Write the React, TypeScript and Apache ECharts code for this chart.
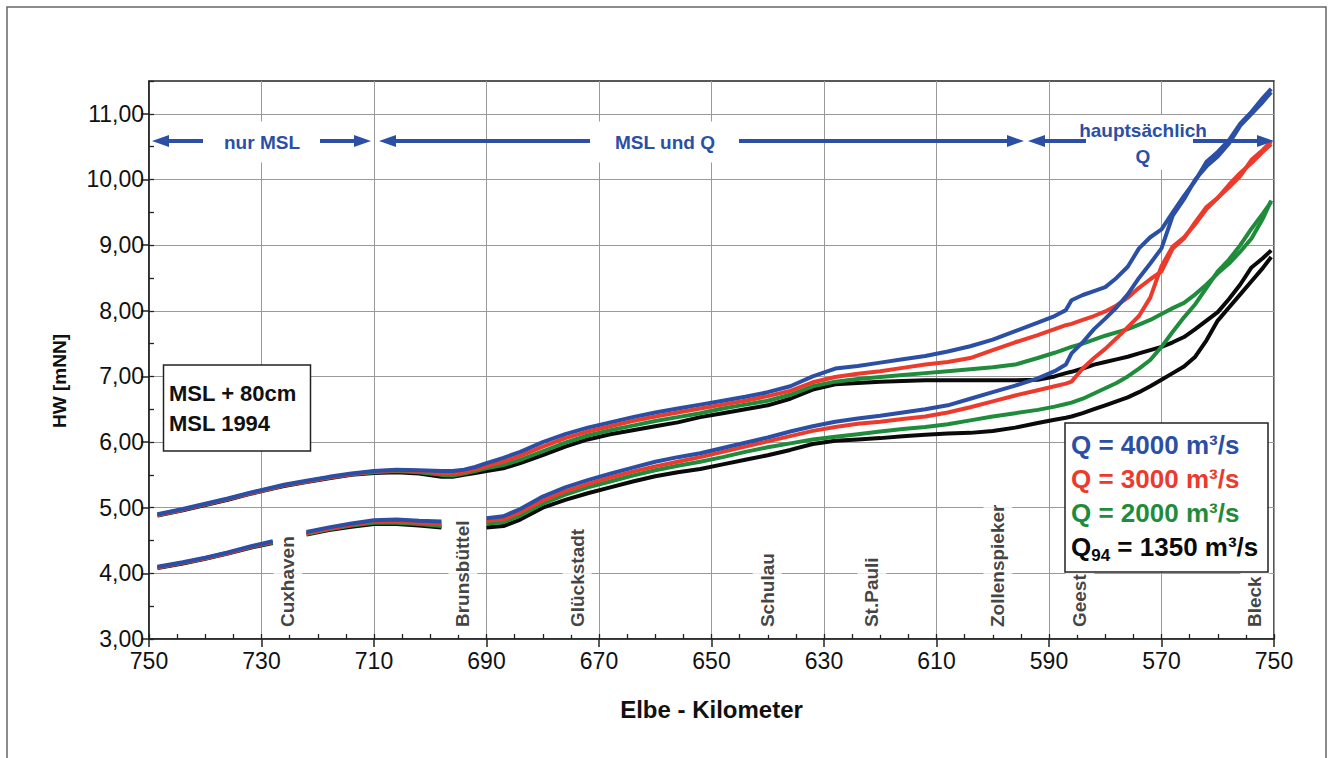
import React, { useEffect, useRef } from "react";
import * as echarts from "echarts";

// Elbe-Kilometer sampling grid (shared by all curves)
const km = [748.5, 744, 740, 736, 732, 728, 726, 722, 718, 714, 710, 706, 702, 698, 696, 694, 692, 690, 687, 684, 680, 676, 672, 668, 664, 660, 656, 652, 648, 644, 640, 636, 632, 628, 624, 620, 616, 612, 608, 604, 600, 596, 592, 589, 587, 586, 584, 582, 580, 578, 576, 574, 572, 570, 568, 566, 564, 562, 560, 558, 556, 554, 552, 550.5];

// HW [mNN], scenario MSL + 80cm
const hw80Q4000 = [4.90, 4.98, 5.06, 5.14, 5.23, 5.31, 5.35, 5.41, 5.47, 5.52, 5.56, 5.58, 5.57, 5.56, 5.56, 5.58, 5.62, 5.68, 5.76, 5.85, 6.00, 6.12, 6.22, 6.30, 6.38, 6.45, 6.51, 6.57, 6.63, 6.69, 6.76, 6.85, 7.00, 7.12, 7.16, 7.21, 7.26, 7.31, 7.38, 7.46, 7.56, 7.69, 7.82, 7.92, 8.01, 8.16, 8.24, 8.30, 8.36, 8.50, 8.67, 8.95, 9.12, 9.24, 9.50, 9.75, 9.98, 10.27, 10.42, 10.60, 10.85, 11.03, 11.24, 11.38];
const hw80Q3000 = [4.89, 4.97, 5.05, 5.13, 5.22, 5.30, 5.34, 5.40, 5.46, 5.51, 5.55, 5.57, 5.56, 5.52, 5.52, 5.54, 5.58, 5.63, 5.70, 5.79, 5.93, 6.06, 6.16, 6.24, 6.32, 6.39, 6.45, 6.51, 6.57, 6.63, 6.70, 6.78, 6.91, 6.99, 7.04, 7.08, 7.13, 7.18, 7.22, 7.28, 7.40, 7.52, 7.63, 7.72, 7.78, 7.80, 7.86, 7.92, 7.99, 8.08, 8.20, 8.35, 8.48, 8.60, 8.95, 9.10, 9.35, 9.58, 9.72, 9.88, 10.05, 10.30, 10.45, 10.58];
const hw80Q2000 = [4.89, 4.97, 5.05, 5.13, 5.22, 5.30, 5.34, 5.40, 5.46, 5.51, 5.54, 5.56, 5.54, 5.50, 5.49, 5.52, 5.56, 5.60, 5.65, 5.73, 5.86, 5.99, 6.10, 6.18, 6.25, 6.32, 6.38, 6.44, 6.51, 6.57, 6.63, 6.72, 6.85, 6.92, 6.96, 6.99, 7.02, 7.05, 7.08, 7.11, 7.14, 7.18, 7.28, 7.36, 7.42, 7.45, 7.50, 7.56, 7.62, 7.67, 7.72, 7.79, 7.86, 7.95, 8.04, 8.12, 8.25, 8.40, 8.57, 8.72, 8.90, 9.10, 9.40, 9.68];
const hw80Q1350 = [4.88, 4.96, 5.04, 5.12, 5.21, 5.29, 5.33, 5.39, 5.45, 5.50, 5.53, 5.54, 5.52, 5.47, 5.47, 5.50, 5.53, 5.56, 5.60, 5.68, 5.80, 5.93, 6.04, 6.12, 6.18, 6.24, 6.30, 6.38, 6.44, 6.50, 6.56, 6.66, 6.80, 6.88, 6.90, 6.92, 6.93, 6.94, 6.94, 6.94, 6.94, 6.94, 6.95, 7.00, 7.05, 7.07, 7.12, 7.18, 7.22, 7.26, 7.30, 7.35, 7.40, 7.45, 7.52, 7.60, 7.72, 7.85, 7.98, 8.18, 8.40, 8.66, 8.80, 8.92];

// HW [mNN], scenario MSL 1994 (null = gap)
const hw94Q4000 = [4.10, 4.17, 4.24, 4.32, 4.41, 4.49, null, 4.63, 4.70, 4.76, 4.81, 4.82, 4.80, 4.79, null, null, null, 4.84, 4.87, 4.98, 5.17, 5.31, 5.42, 5.52, 5.61, 5.70, 5.77, 5.83, 5.91, 5.99, 6.07, 6.16, 6.24, 6.31, 6.36, 6.40, 6.45, 6.50, 6.56, 6.66, 6.76, 6.86, 6.97, 7.08, 7.18, 7.35, 7.52, 7.72, 7.88, 8.05, 8.25, 8.50, 8.72, 8.95, 9.45, 9.70, 10.00, 10.20, 10.35, 10.55, 10.82, 11.00, 11.18, 11.33];
const hw94Q3000 = [4.09, 4.16, 4.23, 4.31, 4.40, 4.48, null, 4.61, 4.68, 4.74, 4.79, 4.79, 4.77, 4.75, null, null, null, 4.80, 4.82, 4.93, 5.11, 5.25, 5.36, 5.46, 5.55, 5.63, 5.70, 5.77, 5.85, 5.93, 6.01, 6.09, 6.17, 6.23, 6.28, 6.31, 6.35, 6.39, 6.45, 6.53, 6.62, 6.71, 6.79, 6.85, 6.89, 6.92, 7.12, 7.28, 7.42, 7.58, 7.75, 7.92, 8.20, 8.68, 8.98, 9.12, 9.32, 9.55, 9.72, 9.92, 10.10, 10.25, 10.42, 10.54];
const hw94Q2000 = [4.09, 4.16, 4.23, 4.31, 4.40, 4.47, null, 4.60, 4.67, 4.73, 4.77, 4.77, 4.75, 4.72, null, null, null, 4.76, 4.78, 4.88, 5.06, 5.20, 5.31, 5.40, 5.49, 5.57, 5.64, 5.70, 5.77, 5.85, 5.92, 5.98, 6.04, 6.08, 6.12, 6.16, 6.20, 6.23, 6.27, 6.33, 6.39, 6.44, 6.49, 6.54, 6.58, 6.60, 6.66, 6.74, 6.82, 6.90, 7.00, 7.12, 7.25, 7.45, 7.68, 7.90, 8.10, 8.35, 8.60, 8.78, 9.00, 9.25, 9.48, 9.66];
const hw94Q1350 = [4.08, 4.15, 4.22, 4.30, 4.39, 4.46, null, 4.59, 4.66, 4.71, 4.75, 4.75, 4.73, 4.70, null, null, null, 4.70, 4.72, 4.82, 5.00, 5.12, 5.22, 5.31, 5.40, 5.48, 5.54, 5.59, 5.66, 5.73, 5.80, 5.88, 5.97, 6.02, 6.04, 6.06, 6.09, 6.11, 6.13, 6.14, 6.17, 6.22, 6.29, 6.34, 6.37, 6.39, 6.44, 6.50, 6.56, 6.62, 6.68, 6.76, 6.85, 6.95, 7.05, 7.15, 7.30, 7.55, 7.85, 8.05, 8.25, 8.45, 8.65, 8.82];

// Stations along the river
const stationNames = ["Cuxhaven", "Brunsbüttel", "Glückstadt", "Schulau", "St.Pauli", "Zollenspieker", "Geest", "Bleck"];
const stationKm = [725.3, 694.2, 673.9, 640.1, 621.5, 599.1, 584.5, 553.4];

// Axis ticks / labels
const xTickValues = [750, 730, 710, 690, 670, 650, 630, 610, 590, 570, 550];
const xTickLabels = ["750", "730", "710", "690", "670", "650", "630", "610", "590", "570", "750"];
const yTickValues = [3, 4, 5, 6, 7, 8, 9, 10, 11];

const BLUE = "#2c4fa6";
const RED = "#ec3a2c";
const GREEN = "#1f8c3b";
const BLACK = "#0a0a0a";
const FONT = "'Liberation Sans', Arial, Helvetica, sans-serif";
const NARROW = "'Liberation Sans Narrow', 'Arial Narrow', 'Liberation Sans', Arial, sans-serif";

export default function App() {
  const ref = useRef<HTMLDivElement>(null);

  useEffect(() => {
    if (!ref.current) return;
    const chart = echarts.init(ref.current, undefined, { renderer: "svg" });

    const mk = (vals: (number | null)[]) => km.map((k, i) => [k, vals[i] == null ? "-" : vals[i]]);
    const lineSeries = (name: string, vals: (number | null)[], color: string) => ({
      name,
      type: "line",
      data: mk(vals),
      showSymbol: false,
      symbol: "none",
      connectNulls: false,
      silent: true,
      z: 2,
      lineStyle: { color, width: 4 },
      itemStyle: { color },
    });

    const arrowLine = (x1: number, x2: number) => ({
      type: "line",
      z: 3,
      silent: true,
      shape: { x1, y1: 141, x2, y2: 141 },
      style: { stroke: BLUE, lineWidth: 4 },
    });
    const head = (tip: number, dir: number) => ({
      type: "polygon",
      z: 3,
      silent: true,
      shape: { points: [[tip, 141], [tip + dir * 17, 135], [tip + dir * 17, 147]] },
      style: { fill: BLUE },
    });
    const blueText = (text: string, x: number, y: number, pad: number[] | null) => ({
      type: "text",
      z: 1,
      silent: true,
      x,
      y,
      style: {
        text,
        fill: BLUE,
        font: `bold 19px ${FONT}`,
        align: "center",
        verticalAlign: "middle",
        ...(pad ? { backgroundColor: "#fff", padding: pad } : {}),
      },
    });
    const legendText = (text: string, y: number, color: string) => ({
      type: "text",
      z: 6,
      silent: true,
      x: 1071,
      y,
      style: { text, fill: color, font: `bold 26px ${FONT}`, align: "left", verticalAlign: "middle" },
    });

    chart.setOption({
      animation: false,
      backgroundColor: "#fff",
      grid: { left: 149, right: 56, top: 81, bottom: 119, show: true, borderColor: "#222", borderWidth: 1.5, backgroundColor: "transparent" },
      xAxis: [
        {
          type: "value",
          min: 550,
          max: 750,
          interval: 20,
          inverse: true,
          position: "bottom",
          axisLine: { onZero: false, lineStyle: { color: "#222", width: 1.5 } },
          axisTick: { show: true, length: 8, lineStyle: { color: "#222", width: 1.5 } },
          axisLabel: {
            formatter: (v: number) => {
              const i = xTickValues.indexOf(v);
              return i >= 0 ? xTickLabels[i] : "";
            },
            fontFamily: NARROW,
            fontSize: 23,
            color: "#111",
            margin: 10,
          },
          splitLine: { show: true, lineStyle: { color: "#9a9a9a", width: 1 } },
          name: "Elbe - Kilometer",
          nameLocation: "middle",
          nameGap: 58,
          nameTextStyle: { fontFamily: FONT, fontWeight: "bold", fontSize: 24, color: "#111" },
        },
        {
          type: "value",
          min: 550,
          max: 750,
          interval: 5,
          inverse: true,
          position: "bottom",
          axisLine: { show: false, onZero: false },
          axisTick: { show: true, inside: true, length: 5, lineStyle: { color: "#222", width: 1.3 } },
          axisLabel: { show: false },
          splitLine: { show: false },
        },
      ],
      yAxis: [
        {
          type: "value",
          min: 3,
          max: 11.5,
          interval: 1,
          position: "left",
          axisLine: { show: true, onZero: false, lineStyle: { color: "#222", width: 1.5 } },
          axisTick: { show: true, length: 8, customValues: yTickValues, lineStyle: { color: "#222", width: 1.5 } },
          axisLabel: {
            customValues: yTickValues,
            formatter: (v: number) => (Number.isInteger(v) ? v.toFixed(2).replace(".", ",") : ""),
            fontFamily: NARROW,
            fontSize: 23,
            color: "#111",
            margin: 5,
          },
          splitLine: { show: true, lineStyle: { color: "#9a9a9a", width: 1 } },
        },
        {
          type: "value",
          min: 3,
          max: 11.5,
          interval: 0.5,
          position: "left",
          axisLine: { show: false, onZero: false },
          axisTick: { show: true, inside: true, length: 5, lineStyle: { color: "#222", width: 1.3 } },
          axisLabel: { show: false },
          splitLine: { show: false },
        },
      ],
      series: [
        lineSeries("MSL+80cm Q94=1350", hw80Q1350, BLACK),
        lineSeries("MSL+80cm Q=2000", hw80Q2000, GREEN),
        lineSeries("MSL+80cm Q=3000", hw80Q3000, RED),
        lineSeries("MSL+80cm Q=4000", hw80Q4000, BLUE),
        lineSeries("MSL1994 Q94=1350", hw94Q1350, BLACK),
        lineSeries("MSL1994 Q=2000", hw94Q2000, GREEN),
        lineSeries("MSL1994 Q=3000", hw94Q3000, RED),
        lineSeries("MSL1994 Q=4000", hw94Q4000, BLUE),
        {
          name: "Stationen",
          type: "scatter",
          z: 4,
          silent: true,
          symbolSize: 0.1,
          itemStyle: { color: "rgba(0,0,0,0)" },
          data: stationKm.map((k, i) => ({ value: [k, 3.06], name: stationNames[i] })),
          label: {
            show: true,
            formatter: (p: any) => p.name,
            rotate: 90,
            position: "inside",
            align: "left",
            verticalAlign: "middle",
            fontFamily: FONT,
            fontWeight: "bold",
            fontSize: 19,
            color: "#111",
            backgroundColor: "#fff",
            padding: [5, 8],
          },
        },
      ],
      graphic: [
        { type: "rect", z: 0, silent: true, shape: { x: 7, y: 7, width: 1319, height: 780 }, style: { fill: "none", stroke: "#666", lineWidth: 1.5 } },
        // Y axis title
        {
          type: "text",
          z: 1,
          silent: true,
          x: 59,
          y: 381,
          rotation: Math.PI / 2,
          style: { text: "HW [mNN]", fill: "#111", font: `bold 19px ${FONT}`, align: "center", verticalAlign: "middle" },
        },
        // arrows
        head(152, 1),
        arrowLine(166, 203),
        blueText("nur MSL", 262, 142, [11, 20]),
        arrowLine(320, 357),
        head(371, -1),
        head(379, 1),
        arrowLine(393, 590),
        blueText("MSL und Q", 665, 142, [11, 24]),
        arrowLine(739, 1010),
        head(1024, -1),
        { type: "rect", z: 1, silent: true, shape: { x: 1088, y: 115, width: 106, height: 55 }, style: { fill: "#fff" } },
        blueText("hauptsächlich", 1143, 130, null),
        blueText("Q", 1143, 156, null),
        head(1028, 1),
        arrowLine(1042, 1086),
        arrowLine(1193, 1260),
        head(1274, -1),
        // MSL box
        { type: "rect", z: 5, silent: true, shape: { x: 163.5, y: 365, width: 147, height: 86 }, style: { fill: "#fff", stroke: "#222", lineWidth: 1.5 } },
        {
          type: "text",
          z: 6,
          silent: true,
          x: 169,
          y: 408,
          style: { text: "MSL + 80cm\nMSL 1994", fill: "#111", font: `bold 22px ${FONT}`, lineHeight: 30, align: "left", verticalAlign: "middle" },
        },
        // Legend box
        { type: "rect", z: 5, silent: true, shape: { x: 1065, y: 423, width: 203, height: 149 }, style: { fill: "#fff", stroke: "#222", lineWidth: 1.5 } },
        legendText("Q = 4000 m³/s", 445, BLUE),
        legendText("Q = 3000 m³/s", 479, RED),
        legendText("Q = 2000 m³/s", 513, GREEN),
        {
          type: "text",
          z: 6,
          silent: true,
          x: 1071,
          y: 547,
          style: {
            text: "{q|Q}{s|94}{q| = 1350 m³/s}",
            align: "left",
            verticalAlign: "middle",
            rich: {
              q: { fill: BLACK, fontFamily: FONT, fontWeight: "bold", fontSize: 26 },
              s: { fill: BLACK, fontFamily: FONT, fontWeight: "bold", fontSize: 17, padding: [16, 0, 0, 0] },
            },
          },
        },
      ],
    });

    return () => chart.dispose();
  }, []);

  return <div ref={ref} style={{ position: "absolute", left: 0, top: 0, width: 1330, height: 758 }} />;
}
